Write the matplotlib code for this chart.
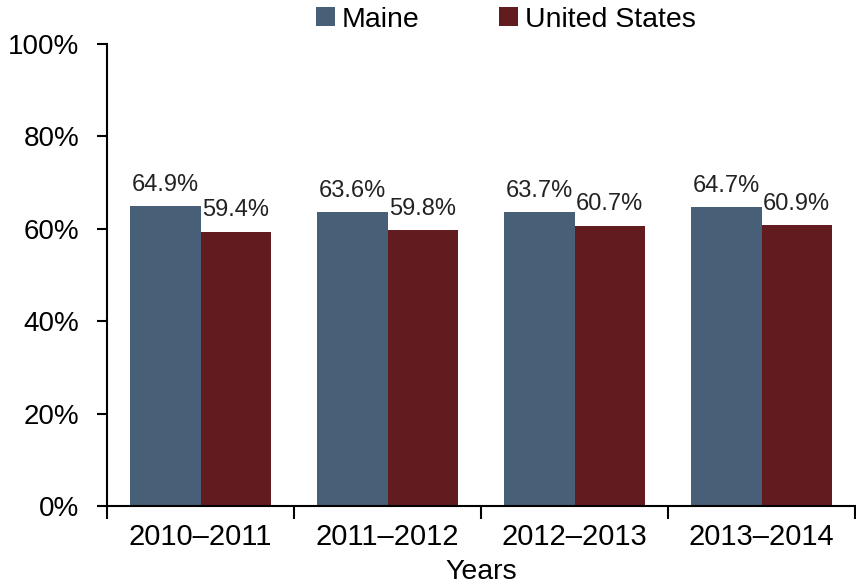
import matplotlib.pyplot as plt
import numpy as np

plt.rcParams['font.family'] = ['Liberation Sans', 'DejaVu Sans']

years = ['2010–2011', '2011–2012', '2012–2013', '2013–2014']
maine = [64.9, 63.6, 63.7, 64.7]
us = [59.4, 59.8, 60.7, 60.9]

c_maine = '#475f77'
c_us = '#621b1e'

fig = plt.figure(figsize=(8.56, 5.88), dpi=100)
ax = fig.add_axes([0.125, 0.1395, 0.874, 0.7855])

x = np.arange(len(years))
w = 0.375
b1 = ax.bar(x - w / 2, maine, w, color=c_maine, label='Maine')
b2 = ax.bar(x + w / 2, us, w, color=c_us, label='United States')

# value labels above the bars
for bars, vals in ((b1, maine), (b2, us)):
    for rect, v in zip(bars, vals):
        ax.text(rect.get_x() + rect.get_width() / 2, v + 2.2, f'{v:.1f}%',
                ha='center', va='bottom', fontsize=17, color='#222222')

ax.set_xlim(-0.5, len(years) - 0.5)
ax.set_ylim(0, 100)
ax.set_yticks(range(0, 101, 20))
ax.set_yticklabels([f'{t}%' for t in range(0, 101, 20)], fontsize=20)

# category labels between the boundary ticks
ax.set_xticks(np.arange(-0.5, len(years)), minor=False)
ax.set_xticklabels([])
ax.set_xticks(x, minor=True)
ax.set_xticklabels(years, minor=True, fontsize=21)
ax.tick_params(axis='x', which='minor', length=0, pad=12)
ax.tick_params(axis='x', which='major', direction='out', length=9, width=1.5)
ax.tick_params(axis='y', direction='out', length=7, width=1.5, pad=13)

for s in ('top', 'right'):
    ax.spines[s].set_visible(False)
for s in ('left', 'bottom'):
    ax.spines[s].set_linewidth(1.5)

ax.set_xlabel('Years', fontsize=20.5, labelpad=6)

fig.legend(handles=[b1, b2], loc='center', bbox_to_anchor=(0.591, 0.966),
           ncol=2, frameon=False, fontsize=20.5, handlelength=0.65,
           handleheight=0.65, handletextpad=0.25, columnspacing=2.8)

fig.savefig('out.png', dpi=100)
